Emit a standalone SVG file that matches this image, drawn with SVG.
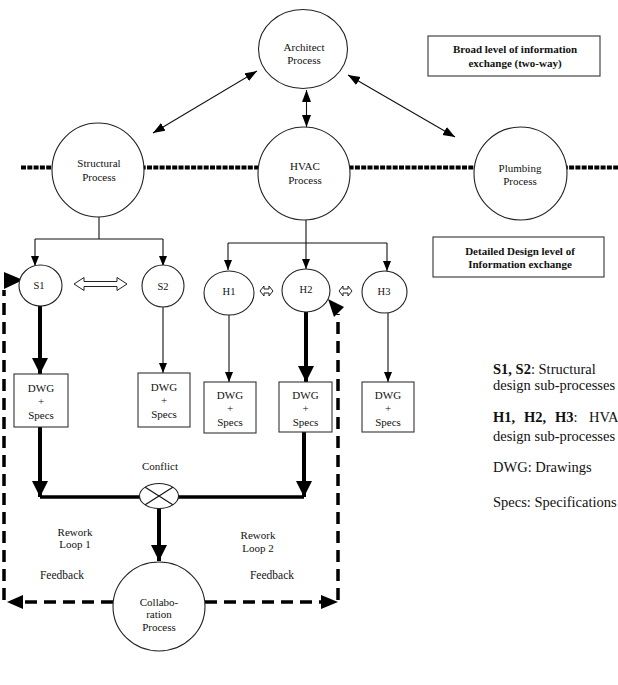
<svg xmlns="http://www.w3.org/2000/svg" width="618" height="685" viewBox="0 0 618 685">
<style>
text{font-family:"Liberation Serif","Times New Roman",serif;fill:#111;text-anchor:middle}
.n{font-size:11px}
.s{font-size:10.5px}
.b{font-size:11px;font-weight:bold}
.lg{font-size:14.5px;text-anchor:start}
.node{fill:#fff;stroke:#222;stroke-width:1.1}
.box{fill:#fff;stroke:#333;stroke-width:1.1}
.thin{stroke:#111;stroke-width:1.1;fill:none}
.thick{stroke:#000;stroke-width:4;fill:none}
.fb{stroke:#000;stroke-width:3.5;fill:none;stroke-dasharray:12 7}
.lvl{stroke:#000;stroke-width:4;fill:none;stroke-dasharray:5 1.3}
.hd{fill:#000}
</style>
<defs>
<marker id="a1" markerUnits="userSpaceOnUse" markerWidth="13" markerHeight="10" refX="12" refY="4.5" orient="auto-start-reverse"><path d="M0,0 L12,4.5 L0,9 z" fill="#000"/></marker>
<marker id="a2" markerUnits="userSpaceOnUse" markerWidth="11" markerHeight="9" refX="10" refY="4" orient="auto"><path d="M0,0 L10,4 L0,8 z" fill="#000"/></marker>
<marker id="a3" markerUnits="userSpaceOnUse" markerWidth="18" markerHeight="18" refX="16" refY="8" orient="auto"><path d="M0,0 L16,8 L0,16 z" fill="#000"/></marker>
</defs>

<g id="connectors">
<line class="lvl" x1="21" y1="167.5" x2="618" y2="167.5"/>
<line class="thin" x1="153" y1="133" x2="257" y2="71" marker-start="url(#a1)" marker-end="url(#a1)"/>
<line class="thin" x1="306.5" y1="90" x2="306.5" y2="127" marker-start="url(#a1)" marker-end="url(#a1)"/>
<line class="thin" x1="348" y1="75" x2="455" y2="137" marker-start="url(#a1)" marker-end="url(#a1)"/>
<path class="thin" d="M99,217 V239 M35,239 H163"/>
<line class="thin" x1="35" y1="239" x2="35" y2="266" marker-end="url(#a2)"/>
<line class="thin" x1="163" y1="239" x2="163" y2="266" marker-end="url(#a2)"/>
<path class="thin" d="M306,220 V243 M228,243 H387"/>
<line class="thin" x1="228" y1="243" x2="228" y2="270" marker-end="url(#a2)"/>
<line class="thin" x1="306" y1="243" x2="306" y2="269" marker-end="url(#a2)"/>
<line class="thin" x1="387" y1="243" x2="387" y2="271" marker-end="url(#a2)"/>
<line class="thick" x1="40" y1="306" x2="40" y2="374" marker-end="url(#a3)"/>
<line class="thin" x1="163" y1="307" x2="163" y2="373" marker-end="url(#a2)"/>
<line class="thin" x1="229" y1="315" x2="229" y2="382" marker-end="url(#a2)"/>
<line class="thick" x1="306" y1="312" x2="306" y2="382" marker-end="url(#a3)"/>
<line class="thin" x1="388" y1="313" x2="388" y2="382" marker-end="url(#a2)"/>
<polygon points="74,284 84,277.5 84,281.5 117,281.5 117,277.5 127,284 117,290.5 117,286.5 84,286.5 84,290.5" fill="#fff" stroke="#222" stroke-width="1"/>
<polygon points="260,291 264,286 264,289 269,289 269,286 273,291 269,296 269,293 264,293 264,296" fill="#fff" stroke="#222" stroke-width="1"/>
<polygon points="339,291 343,286 343,289 348,289 348,286 352,291 348,296 348,293 343,293 343,296" fill="#fff" stroke="#222" stroke-width="1"/>
<line class="thick" x1="40" y1="427" x2="40" y2="497" marker-end="url(#a3)"/>
<line class="thick" x1="304" y1="432" x2="304" y2="497" marker-end="url(#a3)"/>
<line stroke="#000" stroke-width="3.5" x1="40" y1="497" x2="304" y2="497"/>
<line class="thick" x1="159" y1="507" x2="159" y2="561" marker-end="url(#a3)"/>
<path class="fb" d="M113,602 H20"/>
<polygon class="hd" points="7,602 23,595 23,609"/>
<path class="fb" d="M205,602 H325"/>
<polygon class="hd" points="338,602 321,595 321,609"/>
<path class="fb" d="M4,600 V290"/>
<polygon class="hd" points="4,272 23,280 4,289"/>
<path class="fb" d="M338,600 V314"/>
<polygon class="hd" points="328,299 344,307 334,317"/>
</g>

<g id="architect"><ellipse class="node" cx="303" cy="49" rx="44.5" ry="39.5"/><text class="n" x="304" y="51">Architect</text><text class="n" x="304" y="64">Process</text></g>
<g id="broad-label"><rect class="box" x="428" y="36" width="172" height="40"/><text class="b" x="515" y="53">Broad level of information</text><text class="b" x="515" y="67">exchange (two-way)</text></g>
<g id="structural"><ellipse class="node" cx="98" cy="170" rx="46" ry="47"/><text class="n" x="99" y="167">Structural</text><text class="n" x="99" y="181">Process</text></g>
<g id="hvac"><ellipse class="node" cx="304" cy="173.5" rx="46" ry="46.5"/><text class="n" x="305" y="170">HVAC</text><text class="n" x="305" y="184">Process</text></g>
<g id="plumbing"><ellipse class="node" cx="520.5" cy="173.5" rx="46.5" ry="46.5"/><text class="n" x="520" y="172">Plumbing</text><text class="n" x="520" y="185">Process</text></g>
<g id="detailed-label"><rect class="box" x="433" y="237" width="171" height="40"/><text class="b" x="520" y="255">Detailed Design level of</text><text class="b" x="520" y="268">Information exchange</text></g>

<g id="s1"><ellipse class="node" cx="40.5" cy="285.5" rx="21.5" ry="20.5"/><text class="s" x="39" y="289">S1</text></g>
<g id="s2"><ellipse class="node" cx="163" cy="286" rx="21" ry="21"/><text class="s" x="163" y="290">S2</text></g>
<g id="h1"><ellipse class="node" cx="229" cy="293" rx="25" ry="22"/><text class="s" x="229" y="295">H1</text></g>
<g id="h2"><ellipse class="node" cx="306" cy="290.5" rx="24" ry="21.5"/><text class="s" x="306" y="293">H2</text></g>
<g id="h3"><ellipse class="node" cx="384.5" cy="292" rx="22.5" ry="21"/><text class="s" x="384" y="295">H3</text></g>

<g id="dwg-s1"><rect class="box" x="14" y="374" width="54" height="53"/><text class="n" x="41" y="392">DWG</text><text class="n" x="41" y="405">+</text><text class="n" x="41" y="419">Specs</text></g>
<g id="dwg-s2"><rect class="box" x="138" y="373" width="52" height="54"/><text class="n" x="164" y="391">DWG</text><text class="n" x="164" y="404">+</text><text class="n" x="164" y="418">Specs</text></g>
<g id="dwg-h1"><rect class="box" x="204" y="382" width="52" height="51"/><text class="n" x="230" y="399">DWG</text><text class="n" x="230" y="412">+</text><text class="n" x="230" y="426">Specs</text></g>
<g id="dwg-h2"><rect class="box" x="279" y="382" width="53" height="50"/><text class="n" x="305.5" y="399">DWG</text><text class="n" x="305.5" y="412">+</text><text class="n" x="305.5" y="426">Specs</text></g>
<g id="dwg-h3"><rect class="box" x="362" y="382" width="52" height="50"/><text class="n" x="388" y="399">DWG</text><text class="n" x="388" y="412">+</text><text class="n" x="388" y="426">Specs</text></g>

<g id="conflict"><ellipse class="node" cx="159" cy="496" rx="19.5" ry="12.5"/><path class="thin" d="M145.2,487.2 L172.8,504.8 M145.2,504.8 L172.8,487.2"/><text class="n" x="160" y="470">Conflict</text></g>
<g id="collaboration"><ellipse class="node" cx="159" cy="606.5" rx="46" ry="44.5"/><text class="n" x="159" y="606">Collabo-</text><text class="n" x="159" y="618">ration</text><text class="n" x="159" y="631">Process</text></g>

<g id="loop-labels">
<text class="n" x="75" y="536">Rework</text><text class="n" x="75" y="548">Loop 1</text>
<text class="n" x="258" y="539">Rework</text><text class="n" x="258" y="552">Loop 2</text>
<text class="n" x="62" y="579" style="font-size:11.5px">Feedback</text>
<text class="n" x="272" y="579" style="font-size:11.5px">Feedback</text>
</g>

<g id="legend">
<text class="lg" x="493" y="374"><tspan font-weight="bold">S1, S2</tspan>: Structural</text>
<text class="lg" x="493" y="390">design sub-processes</text>
<text class="lg" y="422"><tspan x="493" font-weight="bold">H1,</tspan><tspan x="524" font-weight="bold">H2,</tspan><tspan x="555" font-weight="bold">H3</tspan>:<tspan x="589">HVAC</tspan></text>
<text class="lg" x="493" y="441">design sub-processes</text>
<text class="lg" x="493" y="472">DWG: Drawings</text>
<text class="lg" x="493" y="507">Specs: Specifications</text>
</g>
</svg>
